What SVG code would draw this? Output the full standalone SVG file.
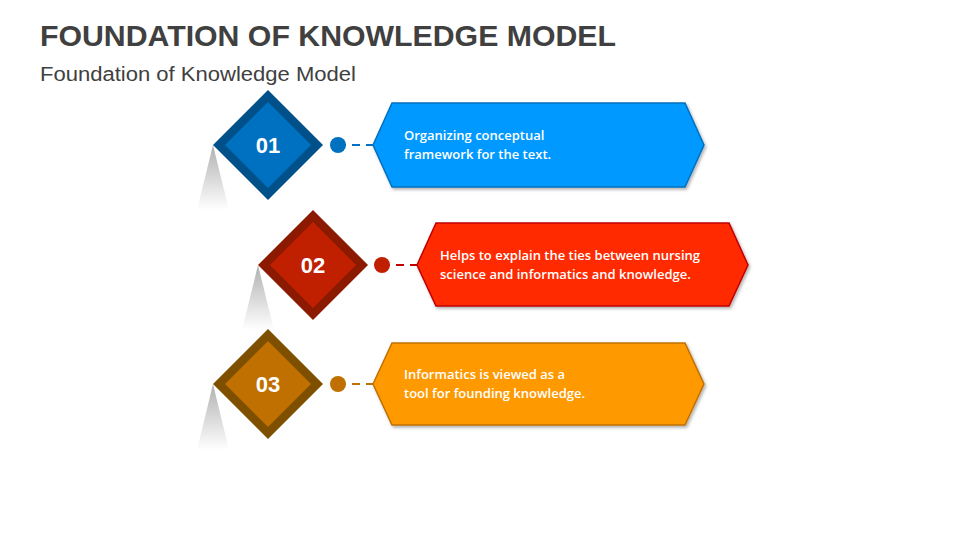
<svg xmlns="http://www.w3.org/2000/svg" width="960" height="540" viewBox="0 0 960 540">
<defs>
<linearGradient id="sh" x1="0" y1="0" x2="0" y2="1"><stop offset="0" stop-color="#b0b0b0"/><stop offset="1" stop-color="#ffffff"/></linearGradient>
<filter id="ds" x="-10%" y="-10%" width="130%" height="140%"><feDropShadow dx="1.5" dy="2" stdDeviation="1.5" flood-opacity="0.3"/></filter>
<style>
.t{font-family:"Liberation Sans",Arial,sans-serif;fill:#404040}
.num{font-family:"Liberation Sans",Arial,sans-serif;font-weight:bold;font-size:22px;fill:#fff;text-anchor:middle}
.b{font-family:"Open Sans","Liberation Sans",sans-serif;font-weight:600;font-size:13px;fill:#fff}
.dash{stroke-width:2;stroke-dasharray:8,6;fill:none}
</style>
</defs>
<text class="t" x="40" y="46" font-size="30" font-weight="bold" textLength="576" lengthAdjust="spacingAndGlyphs">FOUNDATION OF KNOWLEDGE MODEL</text>
<text class="t" x="40" y="81" font-size="20" textLength="316" lengthAdjust="spacingAndGlyphs">Foundation of Knowledge Model</text>
<g id="connectors">
<line class="dash" x1="338" y1="145" x2="373" y2="145" stroke="#0070C0"/>
<line class="dash" x1="382" y1="265" x2="417" y2="265" stroke="#C00000"/>
<line class="dash" x1="338" y1="384" x2="373" y2="384" stroke="#C07000"/>
</g>
<g id="node1">
<polygon points="213,145 197,210 229,210" fill="url(#sh)"/>
<polygon points="268,90 323,145 268,200 213,145" fill="#00508A"/>
<polygon points="268,102 311,145 268,188 225,145" fill="#0070C0"/>
<text class="num" x="268" y="153">01</text>
<circle cx="338" cy="145" r="8" fill="#0070C0"/>
<polygon points="373,145 392,103 685,103 704,145 685,187 392,187" fill="#0099FF" stroke="#0070C0" stroke-width="1.5" filter="url(#ds)"/>
<text class="b" x="404" y="140">Organizing conceptual</text>
<text class="b" x="404" y="159">framework for the text.</text>
</g>
<g id="node2">
<polygon points="258,265 242,330 274,330" fill="url(#sh)"/>
<polygon points="313,210 368,265 313,320 258,265" fill="#8B1A00"/>
<polygon points="313,222 356,265 313,308 270,265" fill="#C02000"/>
<text class="num" x="313" y="273">02</text>
<circle cx="382" cy="265" r="8" fill="#C02000"/>
<polygon points="417,265 436,223 729,223 748,265 729,306 436,306" fill="#FF2A00" stroke="#C00000" stroke-width="1.5" filter="url(#ds)"/>
<text class="b" x="440" y="260">Helps to explain the ties between nursing</text>
<text class="b" x="440" y="279">science and informatics and knowledge.</text>
</g>
<g id="node3">
<polygon points="213,384 197,450 229,450" fill="url(#sh)"/>
<polygon points="268,329 323,384 268,439 213,384" fill="#7F4F00"/>
<polygon points="268,341 311,384 268,427 225,384" fill="#C07000"/>
<text class="num" x="268" y="392">03</text>
<circle cx="338" cy="384" r="8" fill="#C07000"/>
<polygon points="373,384 392,343 685,343 704,384 685,425 392,425" fill="#FF9900" stroke="#C07000" stroke-width="1.5" filter="url(#ds)"/>
<text class="b" x="404" y="379">Informatics is viewed as a</text>
<text class="b" x="404" y="398">tool for founding knowledge.</text>
</g>
</svg>
